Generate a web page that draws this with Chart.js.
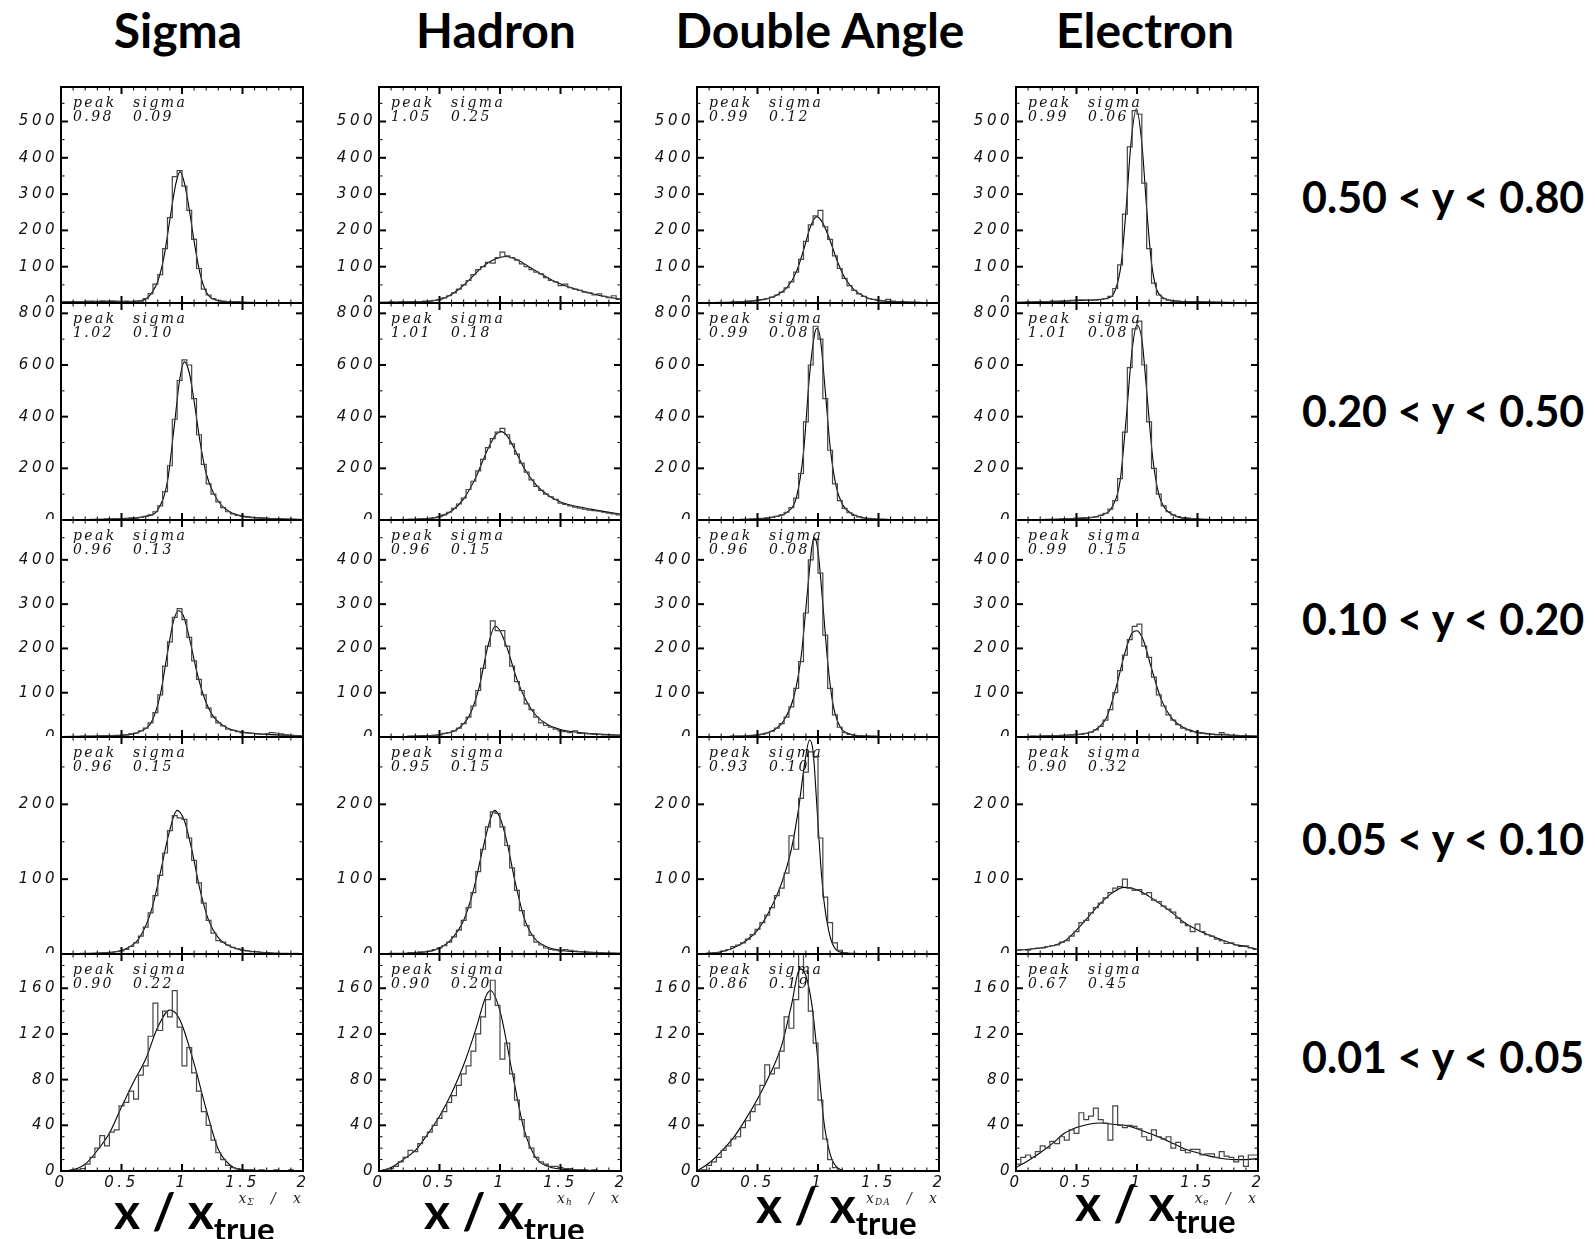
<!DOCTYPE html>
<html>
<head>
<meta charset="utf-8">
<script src="https://cdn.jsdelivr.net/npm/chart.js@4.4.0/dist/chart.umd.min.js"></script>
<style>
  body { margin: 0; background: #fff; width: 1595px; height: 1239px; position: relative; overflow: hidden; }
  canvas { position: absolute; }
  .head { position: absolute; font: bold 48px Lato, sans-serif; line-height: 48px; transform: translateX(-50%); white-space: nowrap; color: #000; }
  .range { position: absolute; left: 1302px; font: bold 43px Lato, sans-serif; line-height: 43px; white-space: nowrap; color: #000; }
  .note { position: absolute; font: italic 14px "DejaVu Serif", serif; letter-spacing: 2.4px; line-height: 14px; white-space: nowrap; color: #111; }
  .big { position: absolute; font: bold 50px Lato, sans-serif; line-height: 50px; white-space: nowrap; color: #000; }
  .big sub { font-size: 33px; vertical-align: -12px; line-height: 0; }
  .small { position: absolute; font: italic 14px "DejaVu Serif", serif; line-height: 14px; letter-spacing: 1px; white-space: nowrap; color: #222; }
  .small sub { font-size: 9px; vertical-align: -2px; line-height: 0; font-style: italic; }
</style>
</head>
<body>
<script>
// ---- data ----
const methods = ['Sigma', 'Hadron', 'Double Angle', 'Electron'];
const yRanges = ['0.50 < y < 0.80', '0.20 < y < 0.50', '0.10 < y < 0.20', '0.05 < y < 0.10', '0.01 < y < 0.05'];
const axisSub = ['Σ', 'h', 'DA', 'e'];

const yMax = [595, 840, 490, 290, 190];
const yMajor = [100, 200, 100, 100, 40];
const yMinor = [50, 100, 50, 50, 10];
const xMin = 0, xMax = 2, xMinor = 0.1;
const xTickValues = [0, 0.5, 1, 1.5, 2];
const xTickLabels = ['0', '0.5', '1', '1.5', '2'];
const binWidth = 0.04;

const sigmaPeak = ['0.98', '1.02', '0.96', '0.96', '0.90'];
const sigmaWidth = ['0.09', '0.10', '0.13', '0.15', '0.22'];
const hadronPeak = ['1.05', '1.01', '0.96', '0.95', '0.90'];
const hadronWidth = ['0.25', '0.18', '0.15', '0.15', '0.20'];
const daPeak = ['0.99', '0.99', '0.96', '0.93', '0.86'];
const daWidth = ['0.12', '0.08', '0.08', '0.10', '0.19'];
const electronPeak = ['0.99', '1.01', '0.99', '0.90', '0.67'];
const electronWidth = ['0.06', '0.08', '0.15', '0.32', '0.45'];

// histogram counts, 50 bins of 0.04 from 0 to 2
const sigmaHist1 = [2,3,3,4,4,5,5,4,6,5,6,5,4,5,4,4,5,12,26,52,78,150,235,348,365,322,255,175,95,38,22,12,7,5,4,3,3,2,2,2,1,1,1,1,1,1,0,1,0,0];
const hadronHist1 = [2,2,3,2,3,3,4,3,4,5,5,7,9,14,20,28,38,50,62,78,92,100,112,110,125,140,130,125,118,108,100,92,85,80,70,62,58,48,52,42,38,35,30,28,22,25,18,15,20,10];
const daHist1 = [0,1,1,1,2,2,2,3,3,4,5,6,7,9,12,16,22,30,42,58,85,120,170,215,240,255,210,175,130,95,68,48,35,25,18,12,10,7,6,10,5,3,3,2,2,1,1,1,0,1];
const electronHist1 = [2,2,3,3,4,3,4,5,5,6,6,7,8,9,8,7,8,10,12,18,40,105,245,430,530,520,330,150,55,22,12,8,6,5,4,4,3,3,2,2,2,2,1,1,1,1,1,0,1,0];

const sigmaHist2 = [1,1,1,2,2,2,3,3,3,4,4,5,5,6,7,8,10,14,20,32,55,110,210,390,540,620,600,470,330,215,140,100,70,48,32,24,18,14,11,9,8,7,6,5,5,4,3,3,2,2];
const hadronHist2 = [1,1,1,2,2,2,3,3,4,5,6,9,13,20,30,45,62,85,118,150,190,235,280,315,340,355,330,295,255,220,185,155,130,115,100,90,80,65,60,55,50,46,42,38,36,34,30,27,24,20];
const daHist2 = [0,0,1,1,1,1,2,2,2,3,3,4,5,6,8,10,14,20,30,48,85,180,380,600,750,700,470,270,140,75,45,28,18,12,8,6,4,3,3,2,2,2,1,1,1,1,0,1,0,0];
const electronHist2 = [1,1,1,2,2,2,3,3,3,4,5,5,7,8,9,10,12,18,26,42,75,160,340,590,740,770,600,380,200,100,55,32,20,13,9,7,5,4,3,3,2,2,2,1,1,1,1,0,1,0];

const sigmaHist3 = [1,1,1,1,2,2,2,2,3,3,3,4,4,5,7,9,14,20,32,55,95,160,215,270,290,265,225,172,130,95,65,45,32,25,18,15,12,10,9,8,7,6,7,10,9,7,5,4,3,3];
const hadronHist3 = [0,0,1,1,1,1,2,2,2,3,3,4,5,8,10,14,20,30,45,70,105,155,205,262,240,240,205,160,125,105,75,62,45,32,26,22,18,14,12,10,14,8,8,7,6,6,5,5,4,4];
const daHist3 = [0,0,0,1,1,1,1,2,2,2,3,4,5,6,9,13,20,30,45,68,110,170,280,400,445,370,230,110,50,22,10,6,4,3,2,2,2,1,1,1,1,1,0,1,0,0,0,0,0,0];
const electronHist3 = [1,1,1,2,1,2,2,3,3,4,4,5,6,6,8,11,16,24,38,62,100,150,185,220,250,255,205,180,135,95,70,50,38,28,20,16,12,10,8,7,6,5,10,6,4,4,3,3,2,2];

const sigmaHist4 = [0,0,0,0,1,1,1,1,1,2,2,3,4,6,10,15,24,36,55,78,105,135,165,185,182,180,155,125,95,68,45,28,18,16,12,9,7,5,4,3,3,2,2,1,1,1,1,0,1,0];
const hadronHist4 = [0,0,1,1,1,1,2,2,3,3,4,6,8,11,16,23,32,45,62,82,110,140,170,190,188,170,145,115,85,58,38,25,16,12,8,6,5,4,6,5,4,3,3,2,2,2,1,1,1,1];
const daHist4 = [0,0,1,1,2,4,6,10,12,15,20,26,33,42,52,62,78,88,108,158,140,208,243,270,263,155,76,42,15,5,2,1,1,0,0,0,0,0,0,0,0,0,0,0,0,0,0,0,0,0];
const electronHist4 = [5,6,5,7,8,8,10,11,12,16,18,24,30,42,45,55,62,68,75,82,88,90,100,88,85,86,80,82,72,70,64,60,56,48,42,38,30,40,30,26,24,20,18,14,15,12,10,11,8,6];

const sigmaHist5 = [0,0,1,1,2,6,12,20,31,22,34,36,57,60,70,63,84,92,118,147,123,140,135,158,126,92,108,86,70,52,40,27,16,10,5,3,2,1,1,1,0,1,0,0,1,0,0,1,0,0];
const hadronHist5 = [0,1,2,4,8,12,18,17,24,30,34,40,46,52,60,66,75,85,92,105,120,135,150,167,145,98,112,85,62,45,30,20,12,8,6,4,4,3,2,2,1,1,1,0,1,0,0,0,0,0];
const daHist5 = [0,1,5,8,12,18,22,28,30,38,44,52,58,75,93,85,90,105,135,125,150,195,175,140,112,62,28,10,3,1,0,0,0,0,0,0,0,0,0,0,0,0,0,0,0,0,0,0,0,0];
const electronHist5 = [6,12,14,12,17,22,20,26,24,30,27,36,33,51,45,48,55,45,42,27,57,40,38,40,39,37,30,27,36,30,28,30,20,25,18,16,19,19,14,15,15,12,17,13,12,8,13,4,14,14];

// fitted curves, [x, y] points
const sigmaFit1 = [[0,3],[0.3,4],[0.6,5],[0.7,11],[0.75,28],[0.8,60],[0.85,125],[0.9,230],[0.95,330],[0.985,362],[1.02,330],[1.06,258],[1.1,170],[1.15,80],[1.2,30],[1.25,12],[1.3,6],[1.5,2],[2,0]];
const hadronFit1 = [[0,2],[0.3,3],[0.45,6],[0.55,15],[0.65,35],[0.75,65],[0.85,98],[0.95,120],[1.05,128],[1.15,118],[1.25,98],[1.35,78],[1.45,60],[1.55,46],[1.65,36],[1.75,27],[1.85,19],[2,10]];
const daFit1 = [[0,0],[0.4,4],[0.55,10],[0.65,20],[0.75,45],[0.82,85],[0.88,145],[0.94,212],[0.99,238],[1.04,220],[1.1,172],[1.16,115],[1.22,70],[1.3,36],[1.4,15],[1.5,7],[1.7,3],[2,0]];
const electronFit1 = [[0,2],[0.4,5],[0.6,8],[0.75,13],[0.82,35],[0.87,110],[0.91,260],[0.95,440],[0.995,535],[1.04,440],[1.08,260],[1.12,110],[1.16,40],[1.22,14],[1.3,6],[1.5,3],[2,0]];

const sigmaFit2 = [[0,1],[0.5,5],[0.7,14],[0.8,40],[0.88,150],[0.94,380],[0.98,540],[1.02,612],[1.06,570],[1.1,460],[1.15,300],[1.2,180],[1.26,105],[1.32,60],[1.4,30],[1.5,15],[1.7,7],[2,2]];
const hadronFit2 = [[0,1],[0.4,5],[0.5,13],[0.6,35],[0.7,82],[0.8,165],[0.9,275],[0.97,332],[1.01,342],[1.06,325],[1.12,275],[1.2,200],[1.3,135],[1.4,95],[1.5,70],[1.6,56],[1.75,42],[2,22]];
const daFit2 = [[0,0],[0.5,4],[0.65,13],[0.75,32],[0.82,85],[0.88,260],[0.93,560],[0.97,715],[0.99,742],[1.02,700],[1.06,500],[1.1,285],[1.15,130],[1.2,62],[1.28,24],[1.4,7],[1.6,2],[2,0]];
const electronFit2 = [[0,1],[0.5,5],[0.7,18],[0.8,55],[0.86,150],[0.91,390],[0.96,660],[1.0,755],[1.04,700],[1.08,500],[1.13,240],[1.18,100],[1.24,40],[1.32,15],[1.45,5],[2,0]];

const sigmaFit3 = [[0,1],[0.5,4],[0.65,12],[0.75,35],[0.82,95],[0.88,190],[0.93,262],[0.97,285],[1.01,275],[1.06,225],[1.12,150],[1.18,92],[1.25,50],[1.35,24],[1.5,11],[1.7,6],[2,3]];
const hadronFit3 = [[0,0],[0.4,3],[0.55,8],[0.65,18],[0.75,50],[0.83,115],[0.9,205],[0.96,250],[1.0,240],[1.06,200],[1.14,130],[1.22,80],[1.3,48],[1.4,27],[1.5,17],[1.7,9],[2,4]];
const daFit3 = [[0,0],[0.45,3],[0.55,7],[0.65,18],[0.72,38],[0.8,90],[0.86,180],[0.91,320],[0.95,430],[0.97,450],[1.0,420],[1.04,300],[1.08,170],[1.12,80],[1.17,30],[1.25,8],[1.4,2],[2,0]];
const electronFit3 = [[0,1],[0.4,4],[0.55,7],[0.65,15],[0.75,45],[0.83,115],[0.9,190],[0.96,235],[1.0,240],[1.05,220],[1.12,155],[1.2,85],[1.28,45],[1.38,22],[1.5,11],[1.7,5],[2,2]];

const sigmaFit4 = [[0,0],[0.45,3],[0.55,8],[0.65,22],[0.75,60],[0.82,108],[0.89,160],[0.96,192],[1.02,178],[1.08,140],[1.15,85],[1.22,45],[1.3,22],[1.4,10],[1.55,4],[1.8,1],[2,0]];
const hadronFit4 = [[0,0],[0.4,3],[0.5,8],[0.6,20],[0.7,45],[0.78,85],[0.86,142],[0.92,180],[0.955,192],[1.0,182],[1.06,148],[1.12,100],[1.2,48],[1.28,22],[1.38,10],[1.5,5],[1.8,2],[2,1]];
const daFit4 = [[0,0],[0.2,3],[0.3,8],[0.4,17],[0.5,32],[0.6,58],[0.7,95],[0.78,140],[0.84,195],[0.89,255],[0.93,286],[0.96,270],[0.99,200],[1.02,125],[1.05,70],[1.09,30],[1.13,10],[1.2,2],[1.4,0],[2,0]];
const electronFit4 = [[0,5],[0.2,8],[0.3,11],[0.4,17],[0.5,32],[0.6,50],[0.7,68],[0.8,82],[0.89,89],[1.0,86],[1.1,77],[1.2,66],[1.3,54],[1.4,41],[1.5,32],[1.6,25],[1.7,19],[1.8,13],[1.9,10],[2,6]];

const sigmaFit5 = [[0,0],[0.1,1],[0.2,6],[0.3,18],[0.4,33],[0.5,56],[0.6,78],[0.7,98],[0.8,126],[0.9,141],[0.95,138],[1.0,128],[1.1,94],[1.2,54],[1.3,19],[1.4,5],[1.5,1],[2,0]];
const hadronFit5 = [[0,0],[0.1,3],[0.2,10],[0.3,18],[0.4,32],[0.5,48],[0.6,68],[0.7,93],[0.8,124],[0.88,152],[0.92,158],[1.0,140],[1.1,87],[1.2,36],[1.3,11],[1.4,4],[1.6,1],[2,0]];
const daFit5 = [[0,0],[0.1,7],[0.2,17],[0.3,29],[0.4,45],[0.5,63],[0.6,84],[0.7,110],[0.78,145],[0.85,177],[0.9,171],[0.95,145],[1.0,96],[1.05,42],[1.1,15],[1.15,4],[1.25,0],[2,0]];
const electronFit5 = [[0,3],[0.1,9],[0.2,16],[0.3,24],[0.4,33],[0.5,38],[0.6,41],[0.7,42],[0.8,41],[0.9,40],[1.0,37],[1.1,33],[1.2,29],[1.3,24],[1.4,19],[1.5,16],[1.6,13],[1.7,11],[1.8,10],[1.9,10],[2,11]];

const hists = [
  [sigmaHist1, hadronHist1, daHist1, electronHist1],
  [sigmaHist2, hadronHist2, daHist2, electronHist2],
  [sigmaHist3, hadronHist3, daHist3, electronHist3],
  [sigmaHist4, hadronHist4, daHist4, electronHist4],
  [sigmaHist5, hadronHist5, daHist5, electronHist5]
];
const fits = [
  [sigmaFit1, hadronFit1, daFit1, electronFit1],
  [sigmaFit2, hadronFit2, daFit2, electronFit2],
  [sigmaFit3, hadronFit3, daFit3, electronFit3],
  [sigmaFit4, hadronFit4, daFit4, electronFit4],
  [sigmaFit5, hadronFit5, daFit5, electronFit5]
];
const peaks = [sigmaPeak, hadronPeak, daPeak, electronPeak];
const widths = [sigmaWidth, hadronWidth, daWidth, electronWidth];

// ---- layout ----
const panelLeft = [61, 379, 697, 1016];
const panelW = 242;
const rowTop = [87, 303, 520, 737, 954];
const rowH = [216, 217, 217, 217, 217];
const axisW = 50, padRight = 12;
const headX = [178, 496, 820, 1145];
const rangeY = [198, 412, 620, 840, 1058];
const bigX = [114, 424, 756, 1075];
const bigBase = [1229, 1229, 1223, 1221];

const tickFont = { family: 'DejaVu Sans', style: 'italic', size: 15 };

const frameTicks = {
  id: 'frameTicks',
  beforeDraw(chart) {
    const c = chart.ctx;
    c.save();
    c.fillStyle = '#fff';
    c.fillRect(0, 0, chart.width, chart.height);
    c.restore();
    c.letterSpacing = '3.5px';
  },
  afterDraw(chart, args, opts) {
    const { ctx, chartArea: a, scales: { x, y } } = chart;
    ctx.save();
    ctx.strokeStyle = '#000';
    const mark = (x1, y1, x2, y2, w) => {
      ctx.lineWidth = w;
      ctx.beginPath(); ctx.moveTo(x1, y1); ctx.lineTo(x2, y2); ctx.stroke();
    };
    const nx = Math.round((xMax - xMin) / xMinor);
    for (let i = 0; i <= nx; i++) {
      const big = i % 5 === 0, px = x.getPixelForValue(xMin + i * xMinor);
      const len = big ? 7 : 3.5, w = big ? 2 : 1;
      mark(px, a.bottom, px, a.bottom - len, w);
      mark(px, a.top, px, a.top + len, w);
    }
    const ny = Math.floor(opts.max / opts.minor), ry = Math.round(opts.major / opts.minor);
    for (let i = 0; i <= ny; i++) {
      const big = i % ry === 0, py = y.getPixelForValue(i * opts.minor);
      const len = big ? 7 : 3.5, w = big ? 2 : 1;
      mark(a.left, py, a.left + len, py, w);
      mark(a.right, py, a.right - len, py, w);
    }
    ctx.lineWidth = 2;
    ctx.strokeRect(a.left, a.top, a.right - a.left, a.bottom - a.top);
    ctx.restore();
  }
};

function histPoints(counts) {
  const pts = counts.map((c, i) => ({ x: i * binWidth, y: c }));
  pts.push({ x: counts.length * binWidth, y: counts[counts.length - 1] });
  return pts;
}

function makePanel(r, c) {
  const bottomRow = r === rowTop.length - 1;
  const xH = bottomRow ? 30 : 12;
  const cv = document.createElement('canvas');
  const w = axisW + panelW + padRight, h = 1 + rowH[r] + xH;
  cv.width = w; cv.height = h;
  cv.style.left = (panelLeft[c] - axisW) + 'px';
  cv.style.top = (rowTop[r] - 1) + 'px';
  cv.style.width = w + 'px'; cv.style.height = h + 'px';
  document.body.appendChild(cv);

  new Chart(cv.getContext('2d'), {
    type: 'line',
    data: {
      datasets: [
        {
          data: histPoints(hists[r][c]),
          stepped: true,
          borderColor: '#444',
          borderWidth: 1.2,
          pointRadius: 0,
          fill: false
        },
        {
          data: fits[r][c].map(([x, y]) => ({ x, y })),
          cubicInterpolationMode: 'monotone',
          borderColor: '#000',
          borderWidth: 1.1,
          pointRadius: 0,
          fill: false
        }
      ]
    },
    options: {
      responsive: false,
      animation: false,
      devicePixelRatio: 1,
      events: [],
      layout: { padding: { top: 1, right: padRight, left: 0, bottom: 0 }, autoPadding: false },
      plugins: {
        legend: { display: false },
        tooltip: { enabled: false },
        frameTicks: { max: yMax[r], major: yMajor[r], minor: yMinor[r] }
      },
      scales: {
        x: {
          type: 'linear', min: xMin, max: xMax,
          grid: { display: false, drawTicks: false },
          border: { display: false },
          ticks: {
            display: bottomRow, padding: 3, font: tickFont, color: '#111',
            maxRotation: 0, autoSkip: false,
            callback: (v, i) => xTickLabels[i]
          },
          afterBuildTicks(s) { s.ticks = xTickValues.map(v => ({ value: v })); },
          afterFit(s) { s.height = xH; s.paddingLeft = 0; s.paddingRight = 0; }
        },
        y: {
          min: 0, max: yMax[r],
          grid: { display: false, drawTicks: false },
          border: { display: false },
          ticks: { padding: 3, font: tickFont, color: '#111', autoSkip: false, callback: v => String(v) },
          afterBuildTicks(s) {
            const t = [];
            for (let v = 0; v <= yMax[r]; v += yMajor[r]) t.push({ value: v });
            s.ticks = t;
          },
          afterFit(s) { s.width = axisW; s.paddingTop = 0; s.paddingBottom = 0; }
        }
      }
    },
    plugins: [frameTicks]
  });
}

function addText(cls, html, css) {
  const d = document.createElement('div');
  d.className = cls;
  d.innerHTML = html;
  Object.assign(d.style, css);
  document.body.appendChild(d);
}

for (let r = 0; r < rowTop.length; r++) {
  for (let c = 0; c < methods.length; c++) makePanel(r, c);
}

methods.forEach((m, c) => addText('head', m, { left: headX[c] + 'px', top: '6px' }));
yRanges.forEach((t, r) => addText('range', t.replace(/</g, '&lt;'), { top: (rangeY[r] - 23) + 'px' }));

for (let r = 0; r < rowTop.length; r++) {
  for (let c = 0; c < methods.length; c++) {
    const x0 = panelLeft[c] + 12, x1 = panelLeft[c] + 72;
    addText('note', 'peak', { left: x0 + 'px', top: (rowTop[r] + 8) + 'px' });
    addText('note', 'sigma', { left: x1 + 'px', top: (rowTop[r] + 8) + 'px' });
    addText('note', peaks[c][r], { left: x0 + 'px', top: (rowTop[r] + 22) + 'px' });
    addText('note', widths[c][r], { left: x1 + 'px', top: (rowTop[r] + 22) + 'px' });
  }
}

for (let c = 0; c < methods.length; c++) {
  addText('small', '<i>x</i><sub>' + axisSub[c] + '</sub>&nbsp;&nbsp;&nbsp;/&nbsp;&nbsp;&nbsp;<i>x</i>',
    { right: (1595 - panelLeft[c] - panelW + 1) + 'px', top: '1191px' });
  addText('big', 'x / x<sub>true</sub>', { left: bigX[c] + 'px', top: (bigBase[c] - 44) + 'px' });
}
</script>
</body>
</html>
